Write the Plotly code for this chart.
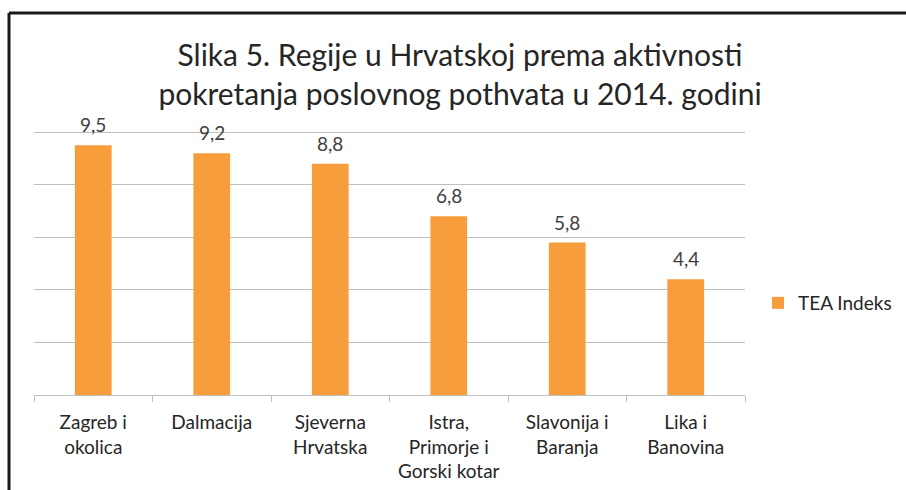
import plotly.graph_objects as go

categories = ["Zagreb i<br>okolica", "Dalmacija", "Sjeverna<br>Hrvatska",
              "Istra,<br>Primorje i<br>Gorski kotar", "Slavonija i<br>Baranja", "Lika i<br>Banovina"]
values = [9.5, 9.2, 8.8, 6.8, 5.8, 4.4]
series_name = "TEA Indeks"
title_text = "Slika 5. Regije u Hrvatskoj prema aktivnosti<br>pokretanja poslovnog pothvata u 2014. godini"

labels = [f"{v:.1f}".replace(".", ",") for v in values]
FONT = "Lato, Carlito, Calibri, sans-serif"

fig = go.Figure(go.Bar(
    x=categories, y=values, name=series_name,
    marker=dict(color="#F79D3B", line=dict(width=0)),
    cliponaxis=False, showlegend=True,
))

for c, v, t in zip(categories, values, labels):
    fig.add_annotation(x=c, y=v, text=t, showarrow=False, yanchor="bottom",
                       yshift=7, font=dict(size=19, color="#404040", family=FONT))

L, R, T, B = 34, 161, 130, 95
W, H = 906, 490
pw, ph = W - L - R, H - T - B

def px(x):
    return (x - L) / pw

def py(y):
    return (H - B - y) / ph

fig.update_layout(
    width=W, height=H,
    margin=dict(l=L, r=R, t=T, b=B, autoexpand=False),
    paper_bgcolor="white", plot_bgcolor="white",
    bargap=0.69,
    title=dict(text=title_text, x=(460) / W, xanchor="center",
               y=1 - 66 / H, yanchor="middle",
               font=dict(size=30, color="#262626", family=FONT)),
    font=dict(family=FONT, color="#404040"),
    xaxis=dict(tickson="boundaries", ticks="outside", ticklen=6, tickcolor="#BFBFBF",
               showline=True, linecolor="#BFBFBF", linewidth=1,
               tickfont=dict(size=19, color="#262626", family=FONT),
               ticklabelstandoff=10,
               showgrid=False, fixedrange=True),
    yaxis=dict(range=[0, 10.08], tickvals=[0, 2, 4, 6, 8, 10], showgrid=True,
               gridcolor="#BFBFBF", gridwidth=1,
               showticklabels=False, zeroline=False, fixedrange=True),
    legend=dict(x=px(758), xanchor="left", y=py(303), yanchor="middle",
                font=dict(size=19, color="#262626", family=FONT),
                itemwidth=30, bgcolor="rgba(0,0,0,0)"),
    shapes=[
        dict(type="line", xref="paper", yref="paper", x0=px(9), x1=px(W + 5),
             y0=py(13), y1=py(13), line=dict(color="#1a1a1a", width=3)),
        dict(type="line", xref="paper", yref="paper", x0=px(9), x1=px(9),
             y0=py(13), y1=py(H + 5), line=dict(color="#1a1a1a", width=3)),
    ],
)

fig.write_html("out.html", config={"displayModeBar": False},
               post_script="document.body.style.margin='0';document.body.style.overflow='hidden';")
